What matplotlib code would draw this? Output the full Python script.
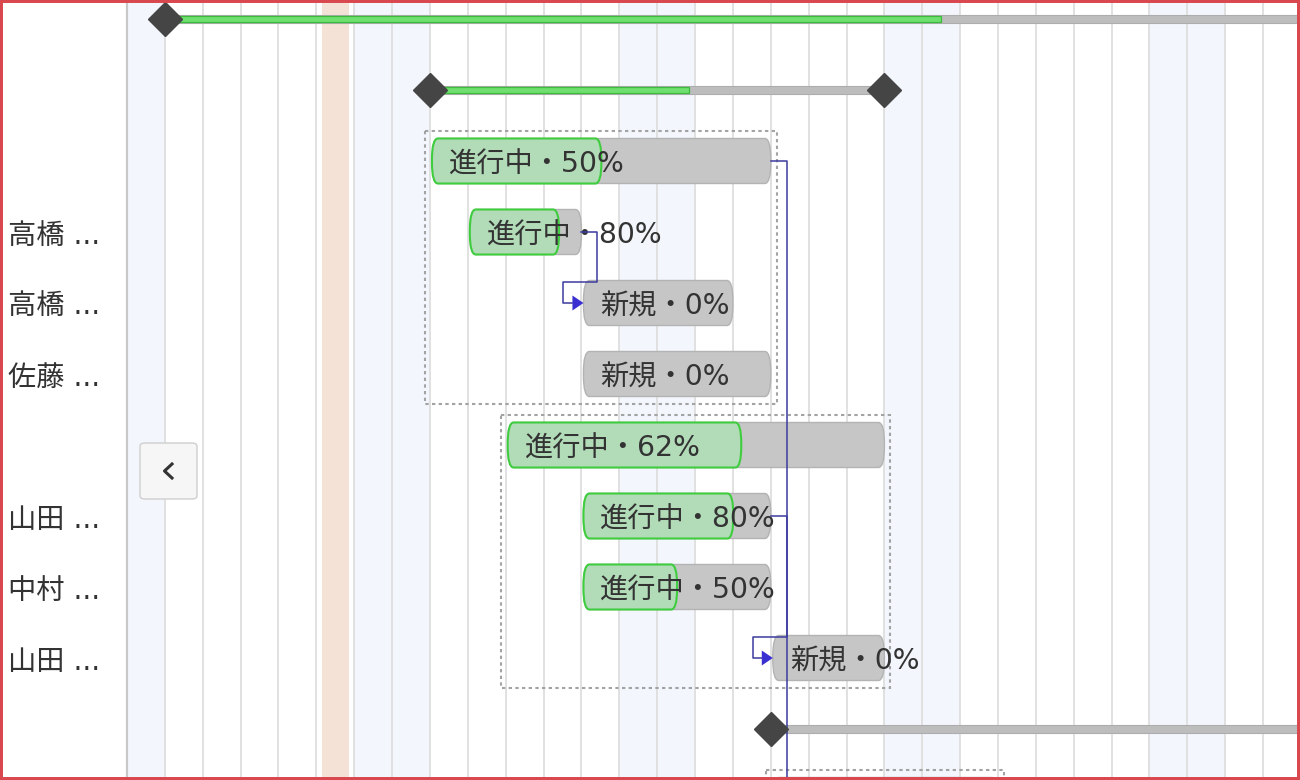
import matplotlib
matplotlib.use('Agg')
import matplotlib.pyplot as plt
from matplotlib.patches import FancyBboxPatch, Rectangle, Polygon
from matplotlib.lines import Line2D
from matplotlib.transforms import blended_transform_factory

plt.rcParams['font.family'] = ['DejaVu Sans', 'Noto Sans CJK JP']

# ---------------- data ----------------
n_days = 31
weekend_days = [0, 6, 7, 13, 14, 20, 21, 27, 28]
today = 5

row_kind = ['summary', 'summary', 'group', 'task', 'task', 'task',
            'group', 'task', 'task', 'task', 'summary', 'group']
row_start = [1, 8, 8, 9, 12, 12, 10, 12, 12, 17, 17, 17]
row_end = [42, 20, 17, 12, 16, 17, 20, 17, 17, 20, 45, 23]
row_progress = [0.50, 0.57, 0.50, 0.80, 0.0, 0.0, 0.62, 0.80, 0.50, 0.0, 0.0, 0.0]
row_status = ['', '', '進行中', '進行中', '新規', '新規', '進行中',
              '進行中', '進行中', '新規', '', '']
row_labels = ['', '', '', '高橋 ...', '高橋 ...', '佐藤 ...', '',
              '山田 ...', '中村 ...', '山田 ...', '', '']
milestone_start = [True, True, False, False, False, False, False, False, False, False, True, False]
milestone_end = [False, True, False, False, False, False, False, False, False, False, False, False]
groups = [(2, 5), (6, 9), (11, 14)]
dependencies = [(3, 4), (2, 11), (7, 9)]

# ---------------- layout ----------------
W, H = 1300, 780
PX_DAY = 37.87
PX_ROW = 71.0
X0 = 127
Y0 = 19

fig = plt.figure(figsize=(W / 100, H / 100), dpi=100)
ax = fig.add_axes([0, 0, 1, 1])
ax.set_xlim(-X0 / PX_DAY, (W - X0) / PX_DAY)
ax.set_ylim((H - Y0) / PX_ROW, -Y0 / PX_ROW)
ax.axis('off')

dx = 1 / PX_DAY   # one pixel in days
dy = 1 / PX_ROW   # one pixel in rows
aspect = PX_DAY / PX_ROW

# weekend shading
for d in weekend_days:
    ax.axvspan(d, d + 1, color='#f3f7fd', zorder=0, lw=0)
# today band
ax.axvspan(today + 0.15, today + 0.87, color='#f5e2d6', zorder=0.5, lw=0)
# grid
ax.vlines(range(1, n_days + 1), -1, 12, color='#dedede', lw=1.3, zorder=1)
ax.vlines([0], -1, 12, color='#c8c8c8', lw=1.6, zorder=1)

# group boxes
for g0, g1 in groups:
    rows = [r for r in range(g0, min(g1, len(row_start) - 1) + 1)]
    s = min(row_start[r] for r in rows)
    e = max(row_end[r] for r in rows)
    ax.add_patch(Rectangle((s - 0.12, g0 - 0.42), e - s + 0.28, (g1 - g0) + 0.84,
                           fill=False, edgecolor='#a3a3a3', lw=1.5,
                           linestyle=(0, (1.6, 1.6)), zorder=2))

bar_h = 45 * dy
round_r = 6 * dx
FS = 20.3
text_kw = dict(fontsize=FS, color='#333333', va='center_baseline', ha='left', zorder=5)

for i, kind in enumerate(row_kind):
    s, e, p = row_start[i], row_end[i], row_progress[i]
    if kind == 'summary':
        th = 8 * dy
        ax.add_patch(Rectangle((s, i - th / 2), e - s, th, facecolor='#bdbdbd',
                               edgecolor='#adadad', lw=0.8, zorder=3))
        if p > 0:
            gh = 6 * dy
            ax.add_patch(Rectangle((s, i - gh / 2), p * (e - s), gh, facecolor='#6fe06f',
                                   edgecolor='#3dbb3d', lw=0.9, zorder=3.5))
    else:
        bs = s + 2 * dx
        ax.add_patch(FancyBboxPatch((bs, i - bar_h / 2), e - bs, bar_h,
                                    boxstyle=f'round,pad=0,rounding_size={round_r}',
                                    mutation_aspect=1 / aspect,
                                    facecolor='#c6c6c6', edgecolor='#b3b3b3', lw=1.0, zorder=3))
        if p > 0:
            ax.add_patch(FancyBboxPatch((bs, i - bar_h / 2), p * (e - bs), bar_h,
                                        boxstyle=f'round,pad=0,rounding_size={round_r}',
                                        mutation_aspect=1 / aspect,
                                        facecolor='#b2dbb8', edgecolor='#3fcd3f', lw=1.5, zorder=4))
        if row_status[i]:
            ax.text(bs + 17 * dx, i + 0.5 * dy, f'{row_status[i]}・{int(round(p * 100))}%', **text_kw)
    if milestone_start[i]:
        ax.plot([s], [i], marker='D', markersize=17, color='#454545', zorder=7, clip_on=False)
    if milestone_end[i]:
        ax.plot([e], [i], marker='D', markersize=17, color='#454545', zorder=7, clip_on=False)

# dependencies
dep_color = '#3b3b9e'
for a, b in dependencies:
    xa = row_end[a]
    xb = row_start[b] + 2 * dx
    xr = xa + 16 * dx
    xl = row_start[b] - 18 * dx
    ym = b - 21 * dy
    alen = 11 * dx
    ax.add_line(Line2D([xa, xr, xr, xl, xl, xb - alen], [a, a, ym, ym, b, b],
                       color=dep_color, lw=1.1, zorder=6))
    ax.add_patch(Polygon([(xb - alen, b - 7.5 * dy), (xb, b), (xb - alen, b + 7.5 * dy)],
                         closed=True, facecolor='#3a2fd0', edgecolor='none', zorder=6))

# left labels
tr = blended_transform_factory(ax.transAxes, ax.transData)
for i, lab in enumerate(row_labels):
    if lab:
        ax.text(8 / W, i + 0.5 * dy, lab, transform=tr, fontsize=FS, color='#333333',
                va='center_baseline', ha='left')

# collapse button
btn = FancyBboxPatch((140 / W, 1 - 499 / H), 57 / W, 56 / H,
                     boxstyle='round,pad=0,rounding_size=0.004',
                     transform=fig.transFigure, facecolor='#f6f6f6',
                     edgecolor='#cfcfcf', lw=1.0, zorder=8)
fig.patches.append(btn)
fig.lines.append(Line2D([172 / W, 164.5 / W, 172 / W],
                        [1 - 464 / H, 1 - 471 / H, 1 - 478 / H],
                        transform=fig.transFigure, color='#333333', lw=2.2, zorder=9))

# outer red frame
fig.patches.append(Rectangle((0, 0), 1, 1, transform=fig.transFigure, fill=False,
                             edgecolor='#d9484f', lw=4.3, zorder=10))

fig.savefig('out.png', dpi=100)
